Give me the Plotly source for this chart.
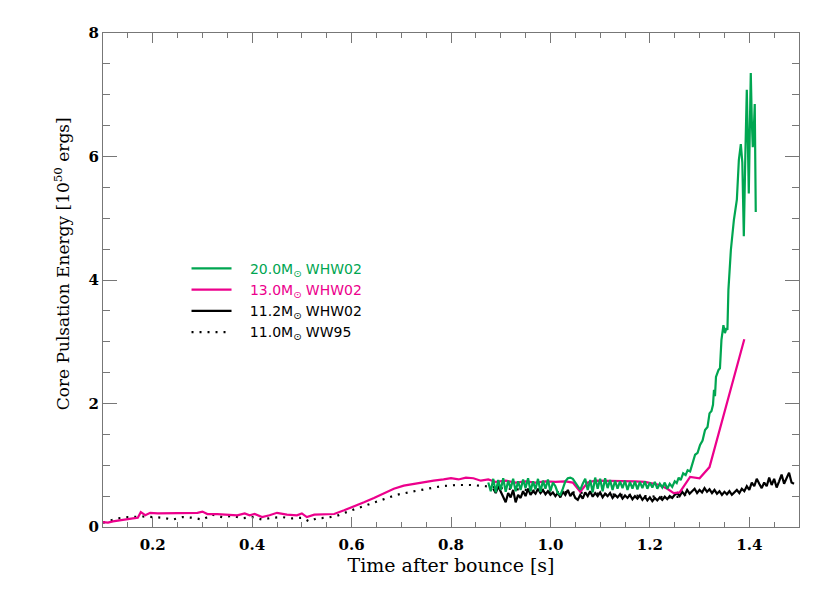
import plotly.graph_objects as go

# 11.0 Msun WW95 (dotted)
t_ww95 = [0.100, 0.115, 0.130, 0.150, 0.165, 0.180, 0.200, 0.220, 0.240, 0.260,
          0.280, 0.300, 0.320, 0.340, 0.360, 0.380, 0.400, 0.420, 0.440, 0.460,
          0.480, 0.500, 0.515, 0.530, 0.550, 0.570, 0.600, 0.630, 0.660, 0.690,
          0.720, 0.750, 0.780, 0.810, 0.840, 0.870, 0.900, 0.950, 1.000, 1.050,
          1.100, 1.150, 1.200, 1.240, 1.260, 1.280]
e_ww95 = [0.07, 0.11, 0.14, 0.16, 0.17, 0.17, 0.16, 0.15, 0.12, 0.16,
          0.15, 0.12, 0.20, 0.16, 0.18, 0.14, 0.16, 0.12, 0.15, 0.16,
          0.14, 0.15, 0.09, 0.14, 0.15, 0.18, 0.27, 0.35, 0.44, 0.52,
          0.57, 0.62, 0.66, 0.68, 0.68, 0.66, 0.63, 0.60, 0.57, 0.56,
          0.54, 0.52, 0.50, 0.48, 0.49, 0.55]

# 11.2 Msun WHW02 (black)
t_112 = [0.885, 0.890, 0.895, 0.900, 0.905, 0.910, 0.915, 0.920, 0.925, 0.930,
         0.935, 0.940, 0.945, 0.950, 0.955, 0.960, 0.965, 0.970, 0.975, 0.980,
         0.985, 0.990, 0.995, 1.000, 1.005, 1.010, 1.015, 1.020, 1.025, 1.030,
         1.035, 1.040, 1.045, 1.050, 1.055, 1.060, 1.065, 1.070, 1.075, 1.080,
         1.085, 1.090, 1.095, 1.100, 1.105, 1.110, 1.115, 1.120, 1.125, 1.130,
         1.135, 1.140, 1.145, 1.150, 1.155, 1.160, 1.165, 1.170, 1.175, 1.180,
         1.185, 1.190, 1.195, 1.200, 1.205, 1.210, 1.215, 1.220, 1.225, 1.230,
         1.235, 1.240, 1.245, 1.250, 1.255, 1.260, 1.265, 1.270, 1.275, 1.280,
         1.285, 1.290, 1.295, 1.300, 1.305, 1.310, 1.315, 1.320, 1.325, 1.330,
         1.335, 1.340, 1.345, 1.350, 1.355, 1.360, 1.365, 1.370, 1.375, 1.380,
         1.385, 1.390, 1.395, 1.400, 1.405, 1.410, 1.415, 1.420, 1.425, 1.430,
         1.435, 1.440, 1.445, 1.450, 1.455, 1.460, 1.465, 1.470, 1.475, 1.480,
         1.485, 1.490]
e_112 = [0.62, 0.55, 0.66, 0.58, 0.50, 0.40, 0.55, 0.48, 0.60, 0.40,
         0.52, 0.47, 0.58, 0.50, 0.62, 0.52, 0.58, 0.54, 0.62, 0.55,
         0.60, 0.53, 0.58, 0.52, 0.56, 0.50, 0.55, 0.48, 0.57, 0.52,
         0.60, 0.50, 0.56, 0.47, 0.44, 0.52, 0.46, 0.56, 0.50, 0.58,
         0.49, 0.55, 0.50, 0.56, 0.48, 0.54, 0.50, 0.55, 0.47, 0.52,
         0.48, 0.53, 0.46, 0.51, 0.47, 0.52, 0.45, 0.50, 0.46, 0.51,
         0.44, 0.49, 0.43, 0.48, 0.42, 0.47, 0.43, 0.48, 0.44, 0.49,
         0.45, 0.50, 0.47, 0.52, 0.55, 0.50, 0.57, 0.52, 0.60, 0.54,
         0.58, 0.62, 0.55, 0.60, 0.56, 0.63, 0.57, 0.61, 0.55, 0.60,
         0.54, 0.58, 0.52, 0.57, 0.53, 0.58, 0.52, 0.56, 0.60, 0.55,
         0.62, 0.58, 0.66, 0.60, 0.72, 0.66, 0.78, 0.70, 0.63, 0.72,
         0.66, 0.80, 0.68, 0.78, 0.64, 0.74, 0.85, 0.70, 0.80, 0.88,
         0.72, 0.70]

# 13.0 Msun WHW02 (magenta)
t_130 = [0.100, 0.110, 0.120, 0.140, 0.160, 0.170, 0.176, 0.185, 0.195, 0.210,
         0.230, 0.250, 0.270, 0.290, 0.300, 0.310, 0.330, 0.350, 0.370, 0.385,
         0.395, 0.405, 0.420, 0.435, 0.450, 0.470, 0.490, 0.500, 0.510, 0.525,
         0.545, 0.565, 0.585, 0.605, 0.625, 0.645, 0.665, 0.685, 0.705, 0.725,
         0.745, 0.765, 0.785, 0.800, 0.815, 0.830, 0.845, 0.860, 0.875, 0.890,
         0.910, 0.930, 0.950, 0.970, 0.990, 1.010, 1.030, 1.045, 1.060, 1.075,
         1.090, 1.110, 1.130, 1.150, 1.170, 1.190, 1.205, 1.220, 1.235, 1.248,
         1.260, 1.281, 1.300, 1.320, 1.390]
e_130 = [0.08, 0.07, 0.09, 0.12, 0.14, 0.15, 0.24, 0.19, 0.23, 0.22,
         0.22, 0.23, 0.22, 0.23, 0.25, 0.21, 0.21, 0.20, 0.19, 0.22,
         0.19, 0.21, 0.16, 0.19, 0.23, 0.20, 0.19, 0.22, 0.16, 0.20,
         0.20, 0.21, 0.27, 0.33, 0.40, 0.47, 0.54, 0.62, 0.67, 0.70,
         0.73, 0.75, 0.77, 0.79, 0.77, 0.80, 0.79, 0.75, 0.77, 0.73,
         0.75, 0.72, 0.74, 0.72, 0.74, 0.73, 0.74, 0.72, 0.57, 0.72,
         0.75, 0.75, 0.74, 0.75, 0.74, 0.73, 0.70, 0.68, 0.62, 0.55,
         0.56, 0.81, 0.79, 0.97, 3.04]

# 20.0 Msun WHW02 (green)
t_200 = [0.875, 0.880, 0.885, 0.890, 0.895, 0.900, 0.905, 0.910, 0.915, 0.920,
         0.925, 0.930, 0.935, 0.940, 0.945, 0.950, 0.955, 0.960, 0.965, 0.970,
         0.975, 0.980, 0.985, 0.990, 0.995, 1.000, 1.005, 1.010, 1.015, 1.020,
         1.025, 1.030, 1.035, 1.040, 1.045, 1.050, 1.055, 1.060, 1.065, 1.070,
         1.075, 1.080, 1.085, 1.090, 1.095, 1.100, 1.105, 1.110, 1.115, 1.120,
         1.125, 1.130, 1.135, 1.140, 1.145, 1.150, 1.155, 1.160, 1.165, 1.170,
         1.175, 1.180, 1.185, 1.190, 1.195, 1.200, 1.205, 1.210, 1.215, 1.220,
         1.225, 1.230, 1.235, 1.240, 1.245, 1.250, 1.254, 1.258, 1.262, 1.267,
         1.272, 1.276, 1.281, 1.286, 1.291, 1.296, 1.301, 1.306, 1.311, 1.316,
         1.320, 1.324, 1.327, 1.329, 1.331, 1.333, 1.338, 1.341, 1.344, 1.348,
         1.351, 1.354, 1.356, 1.358, 1.363, 1.369, 1.375, 1.379, 1.383, 1.386,
         1.389, 1.392, 1.395, 1.397, 1.399, 1.401, 1.403, 1.405, 1.407, 1.409,
         1.411, 1.413]
e_200 = [0.72, 0.58, 0.78, 0.56, 0.76, 0.60, 0.79, 0.57, 0.75, 0.62,
         0.78, 0.58, 0.74, 0.60, 0.77, 0.63, 0.79, 0.58, 0.74, 0.61,
         0.78, 0.57, 0.75, 0.62, 0.77, 0.58, 0.72, 0.66, 0.55, 0.52,
         0.62, 0.74, 0.79, 0.80, 0.78, 0.72, 0.64, 0.60, 0.70, 0.78,
         0.60, 0.76, 0.56, 0.80, 0.62, 0.78, 0.58, 0.79, 0.63, 0.76,
         0.60, 0.75, 0.62, 0.74, 0.63, 0.75, 0.60, 0.73, 0.62, 0.74,
         0.61, 0.73, 0.63, 0.74, 0.62, 0.72, 0.64, 0.73, 0.62, 0.70,
         0.64, 0.72, 0.62, 0.70, 0.65, 0.74, 0.71, 0.80, 0.76, 0.87,
         0.84, 0.92, 0.90, 1.05, 1.17, 1.20, 1.33, 1.40, 1.57, 1.62,
         1.84, 1.88, 1.98, 2.22, 2.12, 2.43, 2.54, 2.57, 3.03, 3.27,
         3.14, 3.22, 3.19, 3.84, 4.49, 4.97, 5.30, 5.94, 6.20, 5.90,
         4.71, 6.00, 7.08, 6.30, 5.40, 6.40, 7.35, 6.60, 6.15, 6.40,
         6.85, 5.10]

GREEN = "#00a651"
MAGENTA = "#ec008c"
SERIF = "DejaVu Serif"
SANS = "DejaVu Sans"
PAD = "&nbsp;&nbsp;&nbsp;"  # gap between legend line and label

fig = go.Figure()

# dotted and black first so the coloured curves sit on top
fig.add_trace(go.Scatter(
    x=t_ww95, y=e_ww95, mode="lines",
    name=PAD + "11.0M<sub>⊙</sub> WW95",
    line=dict(color="black", width=2.2, dash="2px,6px"),
))
fig.add_trace(go.Scatter(
    x=t_112, y=e_112, mode="lines",
    name=PAD + "11.2M<sub>⊙</sub> WHW02",
    line=dict(color="black", width=2.2),
))
fig.add_trace(go.Scatter(
    x=t_130, y=e_130, mode="lines",
    name=PAD + f"<span style='color:{MAGENTA}'>13.0M<sub>⊙</sub> WHW02</span>",
    line=dict(color=MAGENTA, width=2.2),
))
fig.add_trace(go.Scatter(
    x=t_200, y=e_200, mode="lines",
    name=PAD + f"<span style='color:{GREEN}'>20.0M<sub>⊙</sub> WHW02</span>",
    line=dict(color=GREEN, width=2.2),
))

axis_common = dict(
    showline=True, linecolor="#777", linewidth=1.2, mirror="allticks",
    ticks="inside", tickcolor="#777", showgrid=False, zeroline=False,
    tickfont=dict(family=SERIF, size=15, color="black", weight="bold"),
)

fig.update_xaxes(
    range=[0.1, 1.5], tick0=0.2, dtick=0.2, ticklen=10, tickformat=".1f",
    ticklabelstandoff=4,
    minor=dict(ticks="inside", dtick=0.05, ticklen=5, tickcolor="#777"),
    title=dict(text="Time after bounce [s]",
               font=dict(family=SERIF, size=19, color="black"), standoff=5),
    **axis_common,
)
fig.update_yaxes(
    range=[0, 8], dtick=2, ticklen=14,
    minor=dict(ticks="inside", dtick=0.5, ticklen=7, tickcolor="#777"),
    title=dict(text="&nbsp;&nbsp;&nbsp;&nbsp;&nbsp;&nbsp;Core Pulsation Energy [10<sup>50</sup> ergs]",
               font=dict(family=SERIF, size=17, color="black"), standoff=14),
    **axis_common,
)

fig.update_layout(
    width=830, height=593,
    margin=dict(l=95, r=39, t=25, b=74),
    paper_bgcolor="white", plot_bgcolor="white",
    showlegend=True,
    legend=dict(
        x=0.12, y=0.555, xanchor="left", yanchor="top",
        traceorder="reversed",
        bgcolor="rgba(0,0,0,0)", itemwidth=40,
        font=dict(family=SANS, size=14, color="black"),
    ),
)

fig.write_html("out.html")
